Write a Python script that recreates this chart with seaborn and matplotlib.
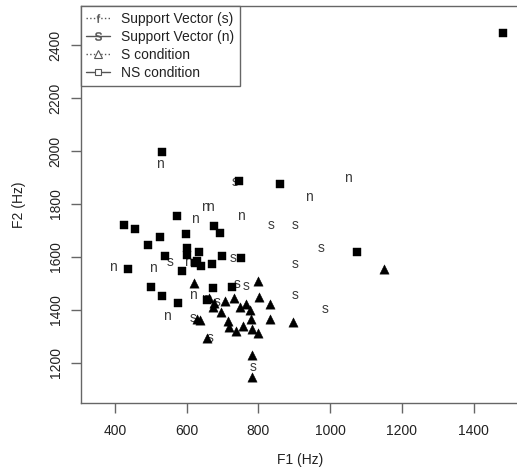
import matplotlib
matplotlib.use("Agg")
import matplotlib.pyplot as plt
from matplotlib.lines import Line2D
import seaborn as sns
import pandas as pd

# NS condition (filled squares)
ns_f1 = [530, 747, 860, 572, 425, 457, 525, 599, 675, 693, 493, 600, 600, 635, 540,
         623, 630, 639, 671, 698, 751, 437, 586, 500, 672, 727, 532, 575, 657, 1074, 1481]
ns_f2 = [1996, 1886, 1874, 1755, 1720, 1705, 1674, 1688, 1716, 1692, 1645, 1633, 1608, 1618, 1605,
         1576, 1585, 1566, 1574, 1605, 1595, 1555, 1548, 1487, 1483, 1488, 1454, 1425, 1438, 1618, 2446]

# S condition (filled triangles)
s_f1 = [619, 800, 677, 672, 707, 732, 695, 749, 765, 776, 802, 832, 714, 719, 737,
        756, 778, 781, 798, 832, 897, 628, 637, 656, 783, 783, 1150, 662]
s_f2 = [1501, 1508, 1428, 1412, 1435, 1444, 1394, 1412, 1423, 1400, 1448, 1423, 1360, 1335, 1322,
        1340, 1365, 1328, 1312, 1365, 1356, 1366, 1362, 1295, 1229, 1146, 1554, 1447]

# Support vectors labelled "s"
svs_f1 = [735, 835, 901, 976, 555, 730, 901, 741, 767, 901, 986, 685, 619, 665, 786]
svs_f2 = [1884, 1721, 1721, 1635, 1581, 1595, 1575, 1498, 1492, 1458, 1404, 1431, 1369, 1293, 1184]

# Support vectors labelled "n"
svn_f1 = [525, 650, 665, 751, 623, 1049, 942, 604, 395, 507, 618, 546, 651]
svn_f2 = [1951, 1789, 1789, 1755, 1745, 1897, 1828, 1582, 1561, 1557, 1458, 1379, 1440]

legend_labels = ["Support Vector (s)", "Support Vector (n)", "S condition", "NS condition"]
x_ticks = [400, 600, 800, 1000, 1200, 1400]
y_ticks = [1200, 1400, 1600, 1800, 2000, 2200, 2400]

sns.set_style("white")
plt.rcParams["font.family"] = ["Liberation Sans", "DejaVu Sans"]
plt.rcParams["mathtext.fontset"] = "custom"
plt.rcParams["mathtext.sf"] = "Liberation Sans"

fig = plt.figure(figsize=(5.17, 4.71), dpi=100)
ax = fig.add_axes([80.7 / 517, (471 - 403.3) / 471, (520 - 80.7) / 517, (403.3 - 6) / 471])

df_ns = pd.DataFrame({"F1": ns_f1, "F2": ns_f2})
df_s = pd.DataFrame({"F1": s_f1, "F2": s_f2})

# support vector text labels
for x, y in zip(svs_f1, svs_f2):
    ax.text(x, y, "s", ha="center", va="center", fontsize=10, color="#3a3a3a", zorder=2)
for x, y in zip(svn_f1, svn_f2):
    ax.text(x, y, "n", ha="center", va="center", fontsize=10, color="#3a3a3a", zorder=2)

sns.scatterplot(data=df_ns, x="F1", y="F2", marker="s", s=30, color="black",
                edgecolor="black", linewidth=0.3, ax=ax, zorder=3)
sns.scatterplot(data=df_s, x="F1", y="F2", marker="^", s=45, color="black",
                edgecolor="black", linewidth=0.3, ax=ax, zorder=3)

ax.set_xlim(304.3, 1529.7)
ax.set_ylim(1047.9, 2547)
ax.set_xticks(x_ticks)
ax.set_yticks(y_ticks)
ax.set_xticklabels([str(t) for t in x_ticks])
ax.set_yticklabels([str(t) for t in y_ticks], rotation=90, va="center")
ax.tick_params(axis="both", direction="out", length=7, width=1, color="#666666",
               labelsize=10, labelcolor="#222222", bottom=True, left=True)
ax.tick_params(axis="x", pad=8)
ax.tick_params(axis="y", pad=6)
ax.set_xlabel("F1 (Hz)", fontsize=10, color="#222222", labelpad=11)
ax.set_ylabel("F2 (Hz)", fontsize=10, color="#222222", labelpad=16)
for sp in ax.spines.values():
    sp.set_color("#666666")
    sp.set_linewidth(1)

handles = [
    Line2D([], [], color="#555555", linestyle=":", linewidth=1, marker=r"$\mathsf{f}$",
           markersize=6, markeredgewidth=0.3),
    Line2D([], [], color="#555555", linestyle="-", linewidth=1, marker=r"$\mathsf{s}$",
           markersize=6, markeredgewidth=0.3),
    Line2D([], [], color="#555555", linestyle=":", linewidth=1, marker="^",
           markerfacecolor="white", markersize=6, markeredgewidth=0.8),
    Line2D([], [], color="#555555", linestyle="-", linewidth=1, marker="s",
           markerfacecolor="white", markersize=5, markeredgewidth=0.8),
]
leg = ax.legend(handles, legend_labels, loc="upper left", bbox_to_anchor=(0, 1),
                borderaxespad=0, fancybox=False, framealpha=1, edgecolor="#666666",
                fontsize=10, handlelength=1.7, handletextpad=0.8, labelspacing=0.3,
                borderpad=0.4)
leg.get_frame().set_linewidth(1)
for t in leg.get_texts():
    t.set_color("#222222")

fig.savefig("out.png", dpi=100)
